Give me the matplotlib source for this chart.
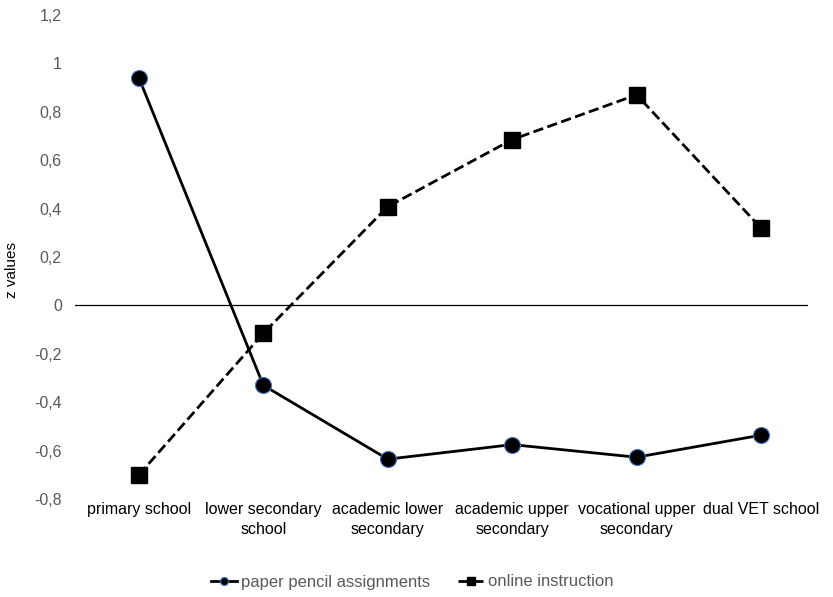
import matplotlib.pyplot as plt

# Datos
categorias = ['primary school', 'lower secondary\nschool', 'academic lower\nsecondary',
              'academic upper\nsecondary', 'vocational upper\nsecondary', 'dual VET school']
papel_lapiz = [0.94, -0.33, -0.635, -0.575, -0.627, -0.536]
online = [-0.70, -0.115, 0.408, 0.685, 0.87, 0.32]
ticks_y = [-0.8, -0.6, -0.4, -0.2, 0, 0.2, 0.4, 0.6, 0.8, 1, 1.2]

plt.rcParams['font.family'] = ['Liberation Sans', 'DejaVu Sans']

fig = plt.figure(figsize=(8.33, 5.97), dpi=100)
ax = fig.add_axes([0.0900, 0.164, 0.880, 0.811])

x = list(range(len(categorias)))
ax.plot(x, papel_lapiz, '-', color='black', lw=2, marker='o', ms=11.5,
        mfc='black', mec='#4472C4', mew=0.8, label='paper pencil assignments', zorder=3)
ax.plot(x, online, '--', color='black', lw=2, marker='s', ms=12,
        mfc='black', mec='black', label='online instruction', zorder=3)

ax.axhline(0, color='black', lw=0.9, zorder=1)

# eje de categorías desplazado como en Excel
ax.set_xlim(-0.514, len(categorias) - 1 + 0.378)
ax.set_ylim(-0.8, 1.2)
ax.set_yticks(ticks_y)
ax.set_yticklabels([f'{v:g}'.replace('.', ',') for v in ticks_y], color='#595959', fontsize=11.5)
ax.set_xticks(x)
ax.set_xticklabels(categorias, fontsize=11.5, color='black', linespacing=1.4)
ax.tick_params(length=0)
ax.tick_params(axis='y', pad=9.5)
ax.tick_params(axis='x', pad=2)
for s in ax.spines.values():
    s.set_visible(False)

ax.set_ylabel('z values', fontsize=11)
ax.yaxis.set_label_coords(-0.0764, 0.473)

fig.legend(loc='center', bbox_to_anchor=(412 / 833, 1 - 582 / 597), ncol=2, frameon=False,
           fontsize=12, handlelength=1.6, columnspacing=1.7, handletextpad=0.2,
           labelcolor='#595959', markerscale=0.5)

fig.savefig('out.png', dpi=100)
